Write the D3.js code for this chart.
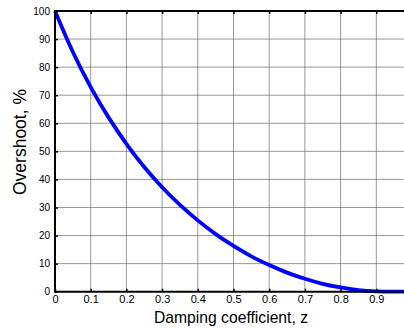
<!DOCTYPE html>
<html>
<head>
<meta charset="utf-8">
<script src="https://cdn.jsdelivr.net/npm/d3@7"></script>
<style>
  html, body { margin: 0; padding: 0; background: #fff; overflow: hidden; }
  svg { display: block; font-family: "Liberation Sans", Arial, sans-serif; }
</style>
</head>
<body>
<svg id="chart" width="404" height="333"></svg>
<script>
// Percent overshoot of a second-order step response vs damping coefficient
const dampingZ = [0, 0.05, 0.1, 0.15, 0.2, 0.25, 0.3, 0.35, 0.4, 0.45, 0.5, 0.55, 0.6, 0.65, 0.7, 0.75, 0.8, 0.85, 0.9, 0.95, 0.99];
const overshootPct = [100, 85.4, 72.9, 62.1, 52.7, 44.4, 37.2, 30.9, 25.4, 20.5, 16.3, 12.6, 9.5, 6.8, 4.6, 2.8, 1.5, 0.6, 0.15, 0.01, 0];
const xTicks = [0, 0.1, 0.2, 0.3, 0.4, 0.5, 0.6, 0.7, 0.8, 0.9, 1];
const yTicks = [0, 10, 20, 30, 40, 50, 60, 70, 80, 90, 100];

const svg = d3.select("#chart");
const plotL = 55, plotR = 412, plotT = 11, plotB = 291.7;

const x = d3.scaleLinear().domain([0, 1]).range([plotL, plotR]);
const y = d3.scaleLinear().domain([0, 100]).range([plotB, plotT]);

// grid
const grid = svg.append("g").attr("stroke", "#666").attr("stroke-width", 0.8).attr("stroke-opacity", 0.85);
grid.selectAll("line.v").data(xTicks.slice(1)).join("line").attr("class", "v")
  .attr("x1", d => x(d)).attr("x2", d => x(d)).attr("y1", plotT).attr("y2", plotB);
grid.selectAll("line.h").data(yTicks.slice(1)).join("line").attr("class", "h")
  .attr("x1", plotL).attr("x2", plotR).attr("y1", d => y(d)).attr("y2", d => y(d));

// curve
const line = d3.line().x((d, i) => x(dampingZ[i])).y(d => y(d)).curve(d3.curveMonotoneX);
svg.append("path").datum(overshootPct)
  .attr("d", line).attr("fill", "none").attr("stroke", "#0000ff").attr("stroke-width", 3.8)
  .attr("stroke-linejoin", "round");

// axes (ticks point inward)
const xAxis = d3.axisBottom(x).tickValues(xTicks.slice(0, 10)).tickSize(-3).tickPadding(3.5).tickFormat(d3.format("~g"));
const gx = svg.append("g").attr("transform", `translate(0,${plotB})`).call(xAxis);
gx.select(".domain").remove();
const xTop = d3.axisTop(x).tickValues(xTicks.slice(0, 10)).tickSize(-3).tickFormat("");
const gxt = svg.append("g").attr("transform", `translate(0,${plotT})`).call(xTop);
gxt.select(".domain").remove();
const yAxis = d3.axisLeft(y).tickValues(yTicks).tickSize(-3).tickPadding(5);
const gy = svg.append("g").attr("transform", `translate(${plotL},0)`).call(yAxis);
gy.select(".domain").remove();

[gx, gy, gxt].forEach(g => {
  g.selectAll(".tick line").attr("stroke", "#000").attr("stroke-width", 1.5);
  g.selectAll("text").attr("fill", "#000").attr("font-family", "Liberation Sans, Arial, sans-serif");
});
gx.selectAll("text").attr("font-size", 11);
gy.selectAll("text").attr("font-size", 10);

// frame lines
svg.append("line").attr("x1", plotL).attr("x2", plotR).attr("y1", plotT).attr("y2", plotT).attr("stroke", "#000").attr("stroke-width", 2);
svg.append("line").attr("x1", plotL).attr("x2", plotR).attr("y1", plotB).attr("y2", plotB).attr("stroke", "#000").attr("stroke-width", 2);
svg.append("line").attr("x1", plotL).attr("x2", plotL).attr("y1", plotT - 1).attr("y2", plotB + 1).attr("stroke", "#000").attr("stroke-width", 2);

// labels
svg.append("text").attr("x", 231).attr("y", 323).attr("text-anchor", "middle")
  .attr("font-size", 15.7).text("Damping coefficient, z");
svg.append("text").attr("transform", "translate(26,142) rotate(-90)")
  .attr("text-anchor", "middle").attr("font-size", 17.5).text("Overshoot, %");
</script>
</body>
</html>
